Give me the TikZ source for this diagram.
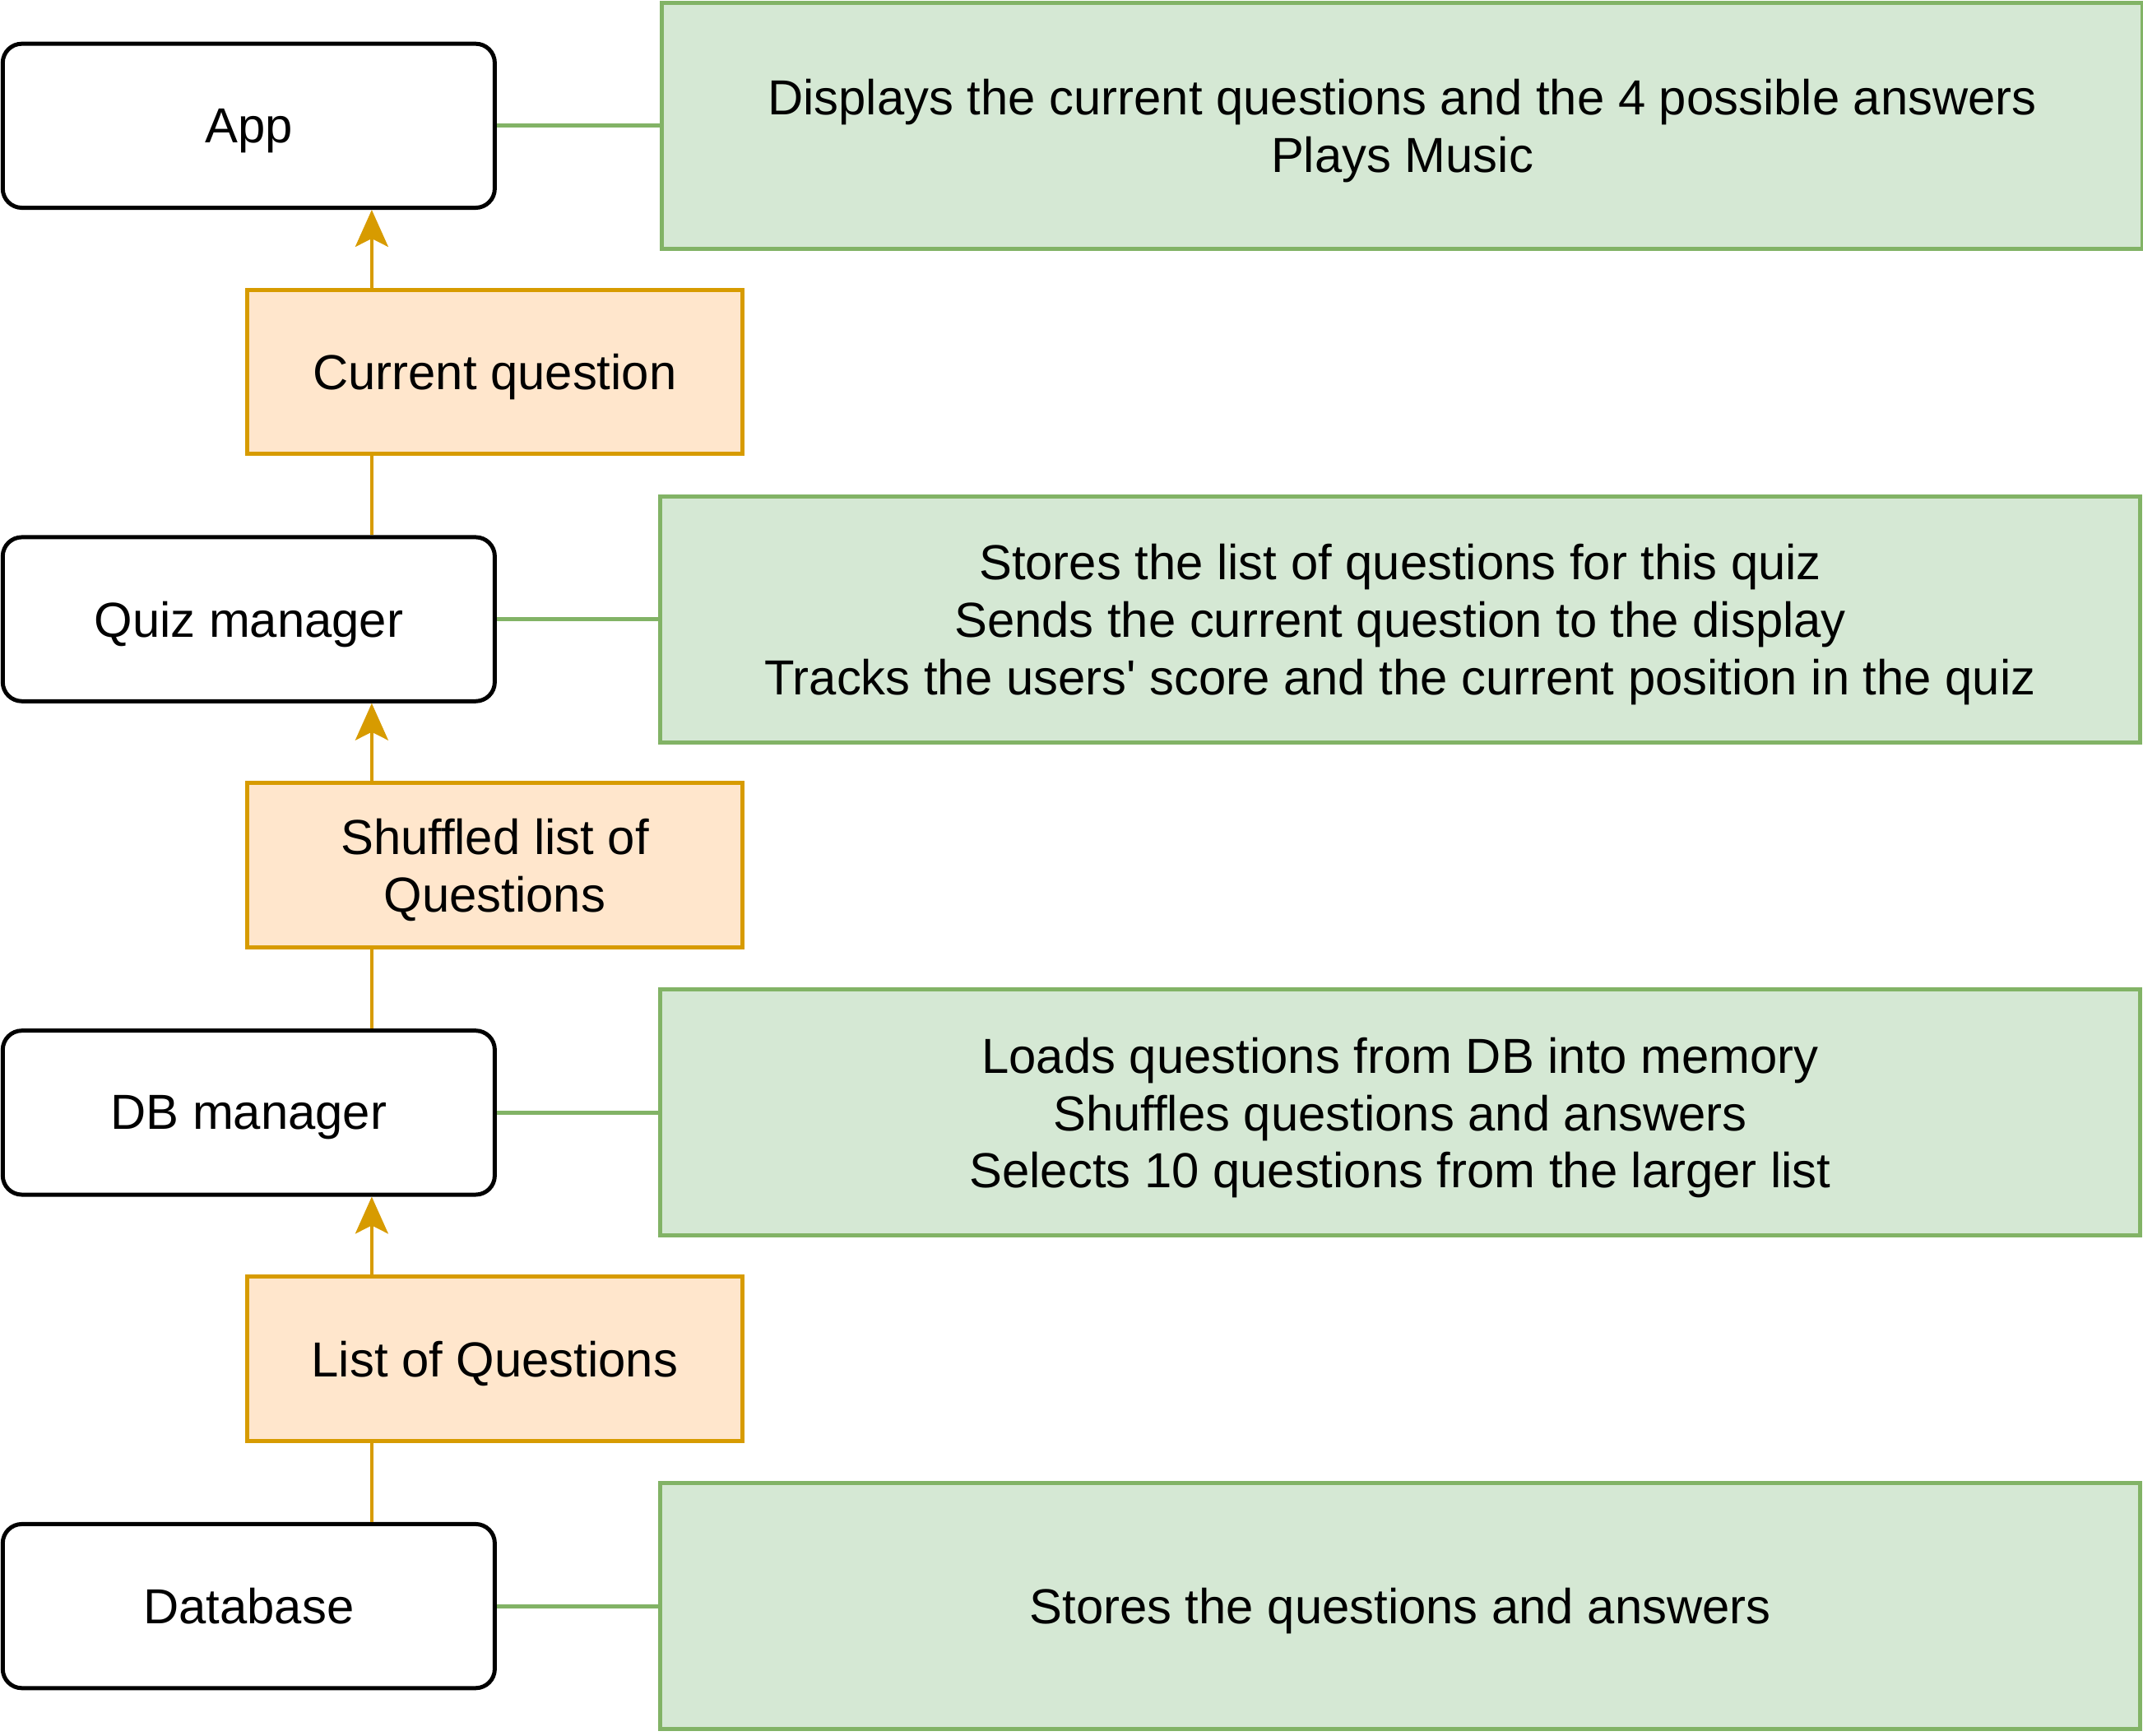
\documentclass[tikz,border=0pt]{standalone}
\usepackage{fontspec}
\setmainfont{Liberation Sans}
\usetikzlibrary{arrows.meta,calc}
\definecolor{ofill}{HTML}{FFE6CC}
\definecolor{odraw}{HTML}{D79B00}
\definecolor{gfill}{HTML}{D5E8D4}
\definecolor{gdraw}{HTML}{82B366}
\newcommand{\straightquote}{\XeTeXglyph\XeTeXcharglyph"27\relax}
\begin{document}
\begin{tikzpicture}[x=0.5pt,y=-0.5pt,
  every node/.style={font=\fontsize{18}{21}\selectfont, inner sep=0pt, align=center, text depth=0pt},
  comp/.style={draw=black, line width=1.5pt, rounded corners=7pt, fill=white, minimum width=180pt, minimum height=60pt},
  data/.style={draw=odraw, line width=1.5pt, fill=ofill, minimum width=181pt, minimum height=60pt},
  note/.style={draw=gdraw, line width=1.5pt, fill=gfill, minimum width=541.5pt, minimum height=90pt},
  flow/.style={draw=odraw, line width=1.3pt},
  flowarr/.style={flow, -{Stealth[length=13.5pt,width=12pt,inset=3pt]}},
  link/.style={draw=gdraw, line width=1.5pt}]
\useasboundingbox (0,0) rectangle (1568,1270);
\node[comp] (app) at (182,92) {App};
\node[data] (cur) at (362,272) {Current question};
\node[comp] (quiz) at (182,453) {Quiz manager};
\node[data] (shuf) at (362,633) {Shuffled list of\\Questions};
\node[comp] (dbm) at (182,814) {DB manager};
\node[data] (list) at (362,994) {List of Questions};
\node[comp] (dbase) at (182,1175) {Database};
\node[note] (g1) at (1026,92) {Displays the current questions and the 4 possible answers\\Plays Music};
\node[note] (g2) at (1024.5,453) {Stores the list of questions for this quiz\\Sends the current question to the display\\Tracks the users\straightquote{} score and the current position in the quiz};
\node[note] (g3) at (1024.5,814) {Loads questions from DB into memory\\Shuffles questions and answers\\Selects 10 questions from the larger list};
\node[note] (g4) at (1024.5,1175) {Stores the questions and answers};
\coordinate (ax) at (272,0);
\draw[flow] (ax |- dbase.north) -- (ax |- list.south);
\draw[flowarr] (ax |- list.north) -- (ax |- dbm.south);
\draw[flow] (ax |- dbm.north) -- (ax |- shuf.south);
\draw[flowarr] (ax |- shuf.north) -- (ax |- quiz.south);
\draw[flow] (ax |- quiz.north) -- (ax |- cur.south);
\draw[flowarr] (ax |- cur.north) -- (ax |- app.south);
\draw[link] (app.east) -- (g1.west);
\draw[link] (quiz.east) -- (g2.west);
\draw[link] (dbm.east) -- (g3.west);
\draw[link] (dbase.east) -- (g4.west);
\end{tikzpicture}
\end{document}
